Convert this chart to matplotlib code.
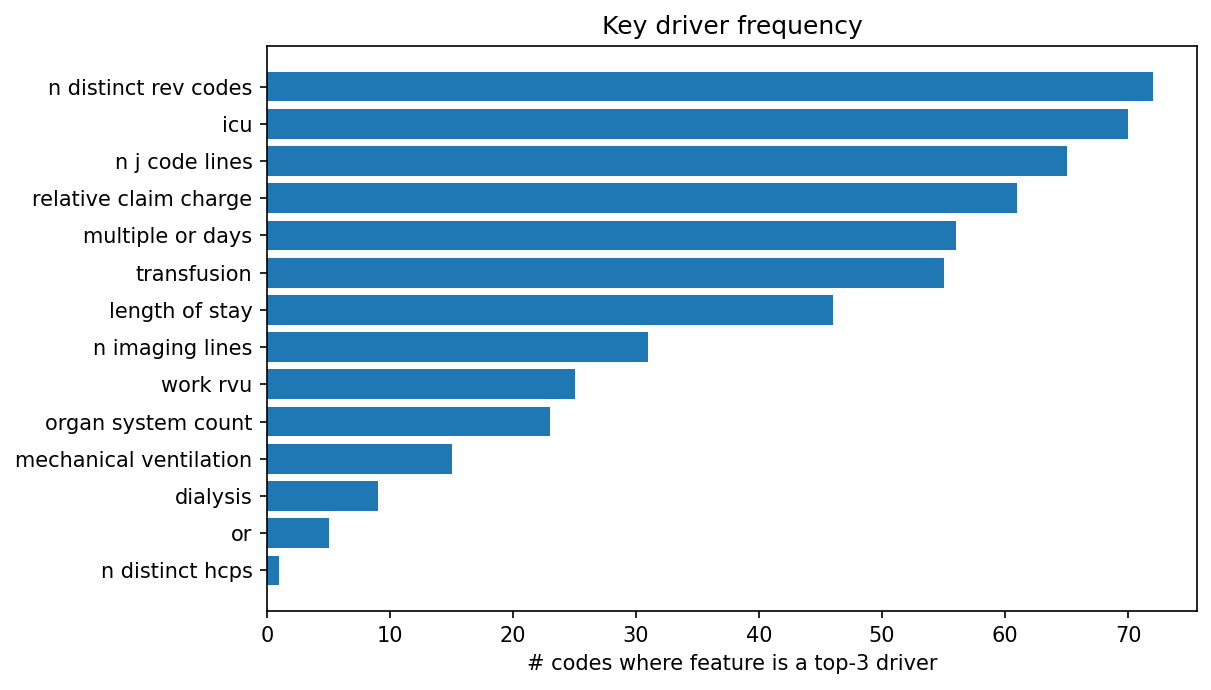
import numpy as np
import matplotlib
matplotlib.use("Agg")
import matplotlib.pyplot as plt

# feature names and how often each is a top-3 driver
features = ["n distinct rev codes", "icu", "n j code lines", "relative claim charge",
            "multiple or days", "transfusion", "length of stay", "n imaging lines",
            "work rvu", "organ system count", "mechanical ventilation", "dialysis",
            "or", "n distinct hcps"]
counts = [72, 70, 65, 61, 56, 55, 46, 31, 25, 23, 15, 9, 5, 1]

fig, ax = plt.subplots(figsize=(1211/150, 690/150), dpi=150)
fig.subplots_adjust(left=0.2205, right=0.9884, top=0.9333, bottom=0.1145)

# reverse so the biggest sits on top
ax.barh(features[::-1], counts[::-1], color="#1f77b4")
ax.set_xlabel("# codes where feature is a top-3 driver")
ax.set_title("Key driver frequency")

fig.savefig("out.png", dpi=150)
